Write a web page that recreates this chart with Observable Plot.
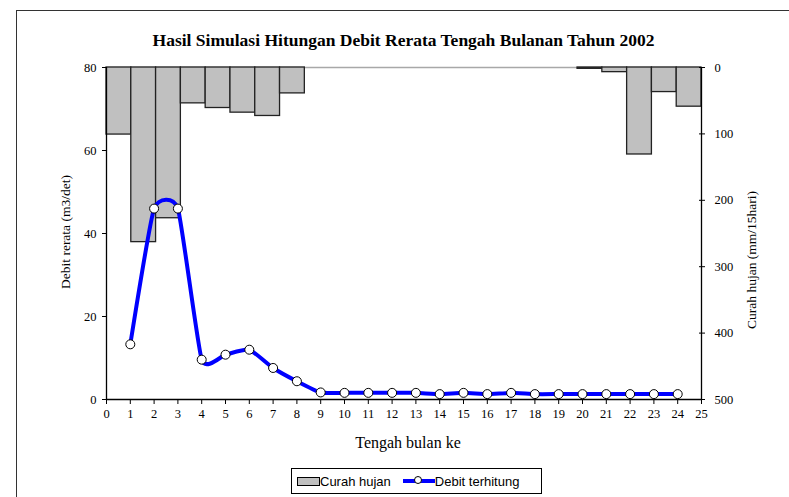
<!DOCTYPE html>
<html>
<head>
<meta charset="utf-8">
<script src="https://cdn.jsdelivr.net/npm/d3@7"></script>
<script src="https://cdn.jsdelivr.net/npm/@observablehq/plot@0.6"></script>
<style>
  html, body { margin: 0; padding: 0; background: #fff; }
  #wrap { position: relative; width: 789px; height: 497px; overflow: hidden; background: #fff; }
  #frame { position: absolute; left: 16px; top: 10px; width: 900px; height: 600px; border: 1px solid #333; box-sizing: border-box; }
  #chart { position: absolute; left: 0; top: 0; }
  .t { position: absolute; font-family: "Liberation Serif", "Times New Roman", serif; color: #000; white-space: nowrap; }
  #title { left: 0; width: 807px; top: 30px; text-align: center; font-weight: bold; font-size: 17.5px; }
  #xlab { left: 0; width: 816px; top: 434px; text-align: center; font-size: 16px; }
  #ylab { left: 66px; top: 232px; font-size: 13.5px; transform: translate(-50%, -50%) rotate(-90deg); }
  #y2lab { left: 752px; top: 260px; font-size: 13.5px; transform: translate(-50%, -50%) rotate(-90deg); }
  #legend { position: absolute; left: 291px; top: 468px; width: 251px; height: 26px; border: 1px solid #000; box-sizing: border-box;
            font-family: "Liberation Sans", Arial, sans-serif; font-size: 13px; display: flex; align-items: center; }
  .sw { display: inline-block; width: 21px; height: 7px; background: #c0c0c0; border: 1px solid #000; margin-left: 5px; }
  .ln { position: relative; display: inline-block; width: 32px; height: 4px; background: #0000ff; margin-left: 12px; }
  .ln i { position: absolute; left: 11px; top: -3px; width: 8px; height: 8px; border-radius: 50%; background: #fff; border: 1px solid #000; box-sizing: border-box; }
</style>
</head>
<body>
<div id="wrap">
  <div id="frame"></div>
  <div id="chart"></div>
  <div class="t" id="title">Hasil Simulasi Hitungan Debit Rerata Tengah Bulanan Tahun 2002</div>
  <div class="t" id="xlab">Tengah bulan ke</div>
  <div class="t" id="ylab">Debit rerata (m3/det)</div>
  <div class="t" id="y2lab">Curah hujan (mm/15hari)</div>
  <div id="legend"><span class="sw"></span><span>Curah hujan</span><span class="ln"><i></i></span><span>Debit terhitung</span></div>
</div>
<script>
// Half-month periods
const periods = d3.range(1, 25);
// Rainfall (mm / 15 days), right axis (inverted, 0 at top); null = no bar
const rain = [101, 263, 227, 54, 61, 68, 73, 39, null, null, null, null, null, null, null, null, null, null, null, 2, 7, 131, 37, 59];
// Computed discharge (m3/s), left axis
const debit = [13.3, 46.0, 46.0, 9.6, 10.8, 12.0, 7.6, 4.4, 1.7, 1.6, 1.6, 1.6, 1.6, 1.3, 1.6, 1.3, 1.6, 1.3, 1.3, 1.3, 1.3, 1.3, 1.3, 1.3];
// Tick labels
const xTicks = d3.range(0, 26);
const leftTicks = [0, 20, 40, 60, 80];
const rainTicks = [0, 100, 200, 300, 400, 500];

const yMax = 80, rainMax = 500, nCats = 24, xMax = 25;
const rainToY = r => yMax - r * yMax / rainMax;
const yToRain = v => Math.round((yMax - v) * rainMax / yMax);

const bars = periods.map((p, i) => ({p, r: rain[i]})).filter(d => d.r != null && d.r > 0)
  .map(d => ({x1: (d.p - 1) * xMax / nCats, x2: d.p * xMax / nCats, y1: yMax, y2: rainToY(d.r)}));
const line = periods.map((p, i) => ({x: p, y: debit[i]}));

const chart = Plot.plot({
  width: 789,
  height: 497,
  marginLeft: 106,
  marginRight: 88,
  marginTop: 67,
  marginBottom: 98,
  x: {domain: [0, xMax]},
  y: {domain: [0, yMax]},
  style: {fontFamily: "Liberation Serif, Times New Roman, serif", fontSize: "12.5px", color: "#000", background: "transparent", overflow: "visible"},
  marks: [
    Plot.ruleY([yMax], {stroke: "#a8a8a8", strokeWidth: 1.5}),
    Plot.rect(bars, {x1: "x1", x2: "x2", y1: "y1", y2: "y2", fill: "#c0c0c0", stroke: "#222", strokeWidth: 1.3}),
    Plot.ruleX([0], {stroke: "#000", strokeWidth: 1.3}),
    Plot.ruleX([xMax], {stroke: "#000", strokeWidth: 1.3}),
    Plot.ruleY([0], {stroke: "#000", strokeWidth: 1.3}),
    Plot.axisX({ticks: xTicks, tickSize: 5, tickPadding: 5, label: null, tickFormat: d => d}),
    Plot.axisY({ticks: leftTicks, tickSize: 4, tickPadding: 6, label: null, tickFormat: d => d}),
    Plot.axisY({anchor: "right", ticks: rainTicks.map(rainToY), tickSize: 3, tickPadding: 10, label: null, tickFormat: yToRain}),
    Plot.axisY({anchor: "right", ticks: rainTicks.map(rainToY), tickSize: 3, dx: -3, label: null, tickFormat: () => ""}),
    Plot.line(line, {x: "x", y: "y", curve: "cardinal", tension: 0.5, stroke: "#0000ff", strokeWidth: 4}),
    Plot.dot(line, {x: "x", y: "y", r: 4.5, fill: "#fff", stroke: "#000", strokeWidth: 1})
  ]
});
document.getElementById("chart").appendChild(chart);
</script>
</body>
</html>
